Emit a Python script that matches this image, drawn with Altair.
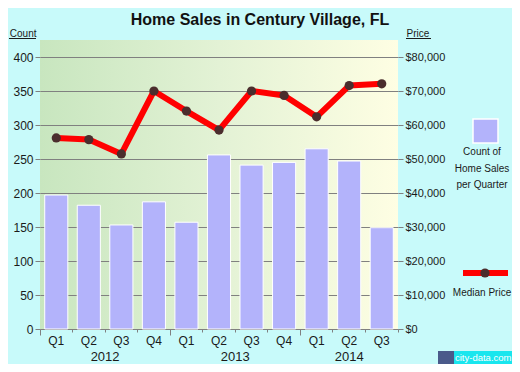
import altair as alt
import pandas as pd

# ---- data ----
years = ["2012", "2012", "2012", "2012", "2013", "2013", "2013", "2013", "2014", "2014", "2014"]
quarters = ["Q1", "Q2", "Q3", "Q4", "Q1", "Q2", "Q3", "Q4", "Q1", "Q2", "Q3"]
counts = [197, 182, 153, 187, 157, 256, 241, 245, 265, 247, 149]
prices = [56200, 55700, 51500, 70000, 64100, 58500, 70000, 68700, 62400, 71600, 72100]
count_ticks = [0, 50, 100, 150, 200, 250, 300, 350, 400]
price_ticks = [0, 10000, 20000, 30000, 40000, 50000, 60000, 70000, 80000]
year_names = ["2012", "2013", "2014"]
year_anchor = ["2012 Q2", "2013 Q2", "2014 Q2"]

periods = [f"{y} {q}" for y, q in zip(years, quarters)]
df = pd.DataFrame({"period": periods, "count": counts, "price": prices})
yr_df = pd.DataFrame({"period": year_anchor, "year": year_names})
one = pd.DataFrame({"k": [0]})

FONT = "Liberation Sans, Arial, sans-serif"
GRAY = "#808080"
TXT = "#1a1a1a"
BAR = "#B3B3FB"
BG = "#C8FAFA"
W, H = 358, 289

xs = alt.Scale(domain=periods, paddingInner=0, paddingOuter=0)

bars = alt.Chart(df).mark_bar(
    color=BAR, stroke="white", strokeWidth=1, width=alt.RelativeBandSize(0.71)
).encode(
    x=alt.X("period:N", scale=xs, axis=alt.Axis(
        orient="bottom", title=None, labels=False, bandPosition=1, tickExtra=True,
        tickColor=GRAY, domainColor=GRAY, grid=False,
        tickSize={"condition": {"test": "datum.extra || indexof(datum.value, 'Q4') >= 0", "value": 6}, "value": 3},
    )),
    y=alt.Y("count:Q", scale=alt.Scale(domain=[0, 425], nice=False), axis=alt.Axis(
        values=count_ticks, title="Count", titleAngle=0, titleAlign="right", titleBaseline="alphabetic",
        titleX=-4, titleY=-4, titleFont=FONT, titleFontSize=10, titleFontWeight="normal", titleColor=TXT,
        grid=True, gridColor=GRAY, gridWidth=1.2, domain=False, tickColor=GRAY, tickSize=5,
        labelPadding=2, labelFont=FONT, labelFontSize=12, labelColor=TXT,
    )),
)

line = alt.Chart(df).mark_line(
    color="#FF0000", strokeWidth=6, strokeJoin="round",
    point=alt.OverlayMarkDef(filled=True, color="#4B2D2D", size=85, opacity=1),
).encode(
    x=alt.X("period:N", scale=xs, axis=alt.Axis(
        orient="bottom", title=None, ticks=False, domain=False, grid=False, labelPadding=6,
        labelAngle=0, labelExpr="split(datum.label, ' ')[1]", labelFont=FONT, labelFontSize=12,
        labelColor=TXT,
    )),
    y=alt.Y("price:Q", scale=alt.Scale(domain=[0, 85000], nice=False), axis=alt.Axis(
        orient="right", values=price_ticks, format="$,d", title="Price", titleAngle=0,
        titleAlign="left", titleBaseline="alphabetic", titleX=8, titleY=-4,
        titleFont=FONT, titleFontSize=10, titleFontWeight="normal", titleColor=TXT,
        grid=False, domain=False, tickColor=GRAY, tickSize=5, labelPadding=2,
        labelFont=FONT, labelFontSize=11, labelColor=TXT,
    )),
)

yr_a = alt.Chart(yr_df[yr_df["year"] != "2014"]).mark_text(
    font=FONT, fontSize=13, baseline="middle", color=TXT
).encode(
    x=alt.X("period:N", scale=xs, axis=None, bandPosition=1),
    y=alt.value(316.5), text="year:N",
)
yr_b = alt.Chart(yr_df[yr_df["year"] == "2014"]).mark_text(
    font=FONT, fontSize=13, baseline="middle", color=TXT
).encode(
    x=alt.X("period:N", scale=xs, axis=None, bandPosition=0.5),
    y=alt.value(316.5), text="year:N",
)

# ---- legend / decoration ----
leg_sq = alt.Chart(one).mark_rect(fill=BAR, stroke="white", strokeWidth=1.5).encode(
    x=alt.value(433), x2=alt.value(458), y=alt.value(79), y2=alt.value(103))
leg_txt1 = alt.Chart(one).mark_text(
    font=FONT, fontSize=10, color=TXT, align="center", baseline="top", lineHeight=16.5
).encode(x=alt.value(442), y=alt.value(107),
         text=alt.value(["Count of", "Home Sales", "per Quarter"]))
leg_line = alt.Chart(one).mark_rule(color="#FF0000", strokeWidth=6).encode(
    x=alt.value(423), x2=alt.value(468), y=alt.value(233))
leg_dot = alt.Chart(one).mark_point(filled=True, color="#4B2D2D", size=85, opacity=1).encode(
    x=alt.value(445), y=alt.value(233))
leg_txt2 = alt.Chart(one).mark_text(
    font=FONT, fontSize=10, color=TXT, align="center", baseline="middle"
).encode(x=alt.value(442), y=alt.value(253), text=alt.value("Median Price"))
ul1 = alt.Chart(one).mark_rule(color=TXT, strokeWidth=1).encode(
    x=alt.value(-31), x2=alt.value(-4), y=alt.value(-1.5))
ul2 = alt.Chart(one).mark_rule(color=TXT, strokeWidth=1).encode(
    x=alt.value(366), x2=alt.value(391), y=alt.value(-1.5))
logo_icon = alt.Chart(one).mark_rect(fill="#4a5a8a").encode(
    x=alt.value(398), x2=alt.value(414), y=alt.value(311), y2=alt.value(324))
logo_bg = alt.Chart(one).mark_rect(fill="#19E6EE").encode(
    x=alt.value(414), x2=alt.value(472), y=alt.value(311), y2=alt.value(324))
logo_txt = alt.Chart(one).mark_text(
    font=FONT, fontSize=9.5, color="white", align="left", baseline="middle"
).encode(x=alt.value(415), y=alt.value(317.5), text=alt.value("city-data.com"))

grad = ("{gradient: 'linear', x1: 0, y1: 0, x2: 1, y2: 0, stops: ["
        "{offset: 0, color: '#c8e6bf'}, {offset: 0.5, color: '#e3f2d5'}, {offset: 1, color: '#fefee3'}]}")

chart = alt.layer(
    bars, line, yr_a, yr_b, leg_sq, leg_txt1, leg_line, leg_dot, leg_txt2, ul1, ul2,
    logo_icon, logo_bg, logo_txt
).resolve_scale(y="independent").resolve_axis(x="independent").properties(
    width=W, height=H,
    autosize=alt.AutoSizeParams(type="none"),
    padding={"left": 32, "top": 32, "right": 114, "bottom": 35},
    background=BG,
    view=alt.ViewBackground(fill=alt.ExprRef(expr=grad), strokeWidth=0),
    title=alt.TitleParams(
        text="Home Sales in Century Village, FL", font=FONT, fontSize=16,
        fontWeight="bold", color="#111111", anchor="middle", dx=41, offset=0,
    ),
)

chart.save("out.html", embed_options={"renderer": "svg", "actions": False})
